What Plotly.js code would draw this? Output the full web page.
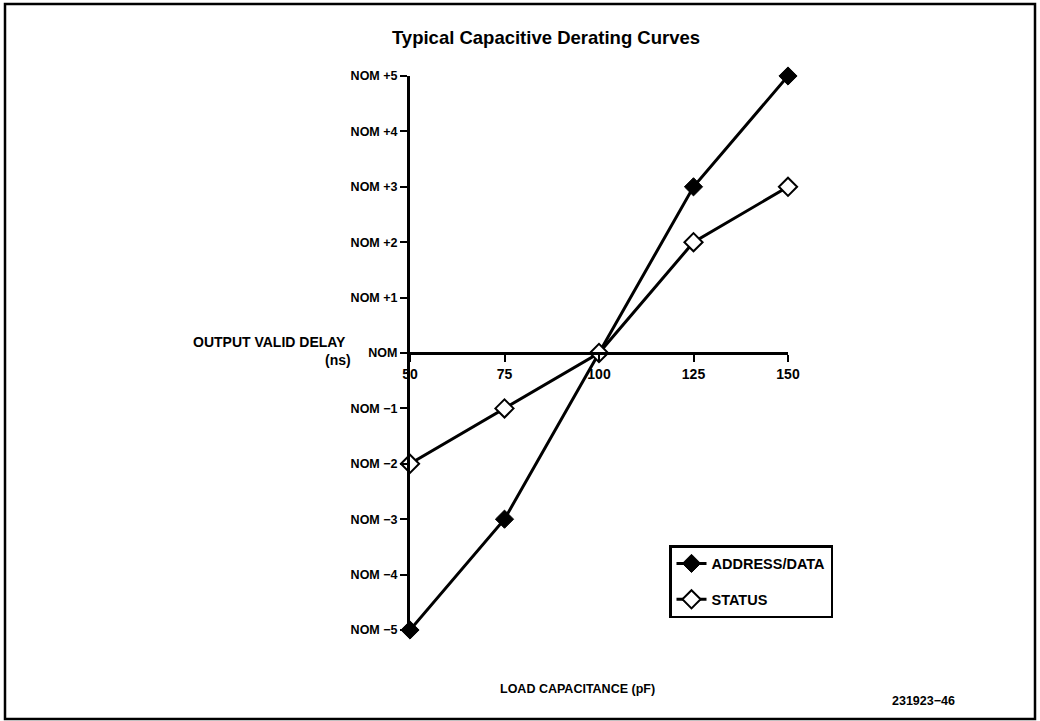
<!DOCTYPE html>
<html>
<head>
<meta charset="utf-8">
<script src="https://cdn.plot.ly/plotly-3.0.1.min.js"></script>
<style>html,body{margin:0;padding:0;background:#fff;}#chart{width:1040px;height:721px;}</style>
</head>
<body>
<div id="chart"></div>
<script>
// ---- data ----
const loadCapacitance = [50, 75, 100, 125, 150];
const addressData = [-5, -3, 0, 3, 5];
const statusVals = [-2, -1, 0, 2, 3];
const xTickVals = [50, 75, 100, 125, 150];
const xTickText = ["50", "75", "100", "125", "150"];
const yTickVals = [-5, -4, -3, -2, -1, 0, 1, 2, 3, 4, 5];
const yTickText = ["NOM \u22125", "NOM \u22124", "NOM \u22123", "NOM \u22122", "NOM \u22121", "NOM",
                   "NOM +1", "NOM +2", "NOM +3", "NOM +4", "NOM +5"];
const seriesNames = ["ADDRESS/DATA", "STATUS"];
const titleText = "Typical Capacitive Derating Curves";
const yLabel1 = "OUTPUT VALID DELAY";
const yLabel2 = "(ns)";
const xLabel = "LOAD CAPACITANCE (pF)";
const figId = "231923\u221246";

// ---- layout geometry ----
const W = 1040, H = 721;
const xDom = [410 / W, 788 / W];
const yDom = [(H - 630) / H, (H - 76) / H];
const yMid = (yDom[0] + yDom[1]) / 2;
const font = "Liberation Sans, Arial, sans-serif";
const tickFont = {family: font, size: 12.5, color: "#000", weight: "bold"};

const traces = [
  {x: loadCapacitance, y: addressData, name: seriesNames[0], legendgroup: "a", mode: "lines+markers",
   line: {color: "#000", width: 3}, marker: {symbol: "diamond", size: 14, color: "#000", line: {color: "#000", width: 1}},
   cliponaxis: false},
  {x: loadCapacitance, y: statusVals, name: seriesNames[1], legendgroup: "b", mode: "lines+markers",
   line: {color: "#000", width: 3}, marker: {symbol: "diamond", size: 14, color: "#fff", line: {color: "#000", width: 2}},
   cliponaxis: false}
];

const layout = {
  width: W, height: H,
  margin: {l: 0, r: 0, t: 0, b: 0},
  paper_bgcolor: "#fff", plot_bgcolor: "rgba(0,0,0,0)",
  showlegend: true,
  title: {text: "<b>" + titleText + "</b>", font: {family: font, size: 18.5, color: "#000"},
          x: 546 / W, xanchor: "center", y: (H - 38) / H, yanchor: "middle"},
  xaxis: {domain: xDom, range: [50, 150], anchor: "free", position: yMid,
          showgrid: false, zeroline: false, showline: true, linecolor: "#000", linewidth: 3,
          ticks: "outside", ticklen: 7, tickwidth: 2, tickcolor: "#000",
          tickmode: "array", tickvals: xTickVals, ticktext: xTickText,
          tickfont: {family: font, size: 14, color: "#000", weight: "bold"}},
  xaxis2: {domain: xDom, range: [50, 150], overlaying: "x", anchor: "free", position: yMid,
           showgrid: false, zeroline: false, showline: false,
           ticks: "inside", ticklen: 7, tickwidth: 2, tickcolor: "#000",
           tickmode: "array", tickvals: xTickVals.slice(1), showticklabels: false},
  yaxis: {domain: yDom, range: [-5, 5], anchor: "x",
          showgrid: false, zeroline: false, showline: true, linecolor: "#000", linewidth: 3,
          ticks: "outside", ticklen: 7, tickwidth: 2, tickcolor: "#000",
          tickmode: "array", tickvals: yTickVals, ticktext: yTickText, tickfont: tickFont},
  yaxis2: {domain: yDom, range: [-5, 5], overlaying: "y", anchor: "free", position: xDom[0], side: "left",
           showgrid: false, zeroline: false, showline: false,
           ticks: "inside", ticklen: 7, tickwidth: 2, tickcolor: "#000",
           tickmode: "array", tickvals: yTickVals.filter(v => v !== 0), showticklabels: false},
  legend: {x: 669 / W, y: (H - 545) / H, xanchor: "left", yanchor: "top",
           bordercolor: "#000", borderwidth: 2.5, bgcolor: "#fff",
           font: {family: font, size: 14.5, color: "#000", weight: "bold"},
           tracegroupgap: 14},
  annotations: [
    {text: "<b>" + yLabel1 + "</b>", xref: "paper", yref: "paper", x: 348 / W, y: (H - 342) / H,
     xanchor: "right", yanchor: "middle", showarrow: false, font: {family: font, size: 14, color: "#000"}},
    {text: "<b>" + yLabel2 + "</b>", xref: "paper", yref: "paper", x: 353 / W, y: (H - 360) / H,
     xanchor: "right", yanchor: "middle", showarrow: false, font: {family: font, size: 14, color: "#000"}},
    {text: "<b>" + xLabel + "</b>", xref: "paper", yref: "paper", x: 577 / W, y: (H - 689) / H,
     xanchor: "center", yanchor: "middle", showarrow: false, font: {family: font, size: 12.5, color: "#000"}},
    {text: "<b>" + figId + "</b>", xref: "paper", yref: "paper", x: 923 / W, y: (H - 701) / H,
     xanchor: "center", yanchor: "middle", showarrow: false, font: {family: font, size: 12.5, color: "#000"}}
  ],
  shapes: [
    {type: "rect", xref: "paper", yref: "paper", x0: 5 / W, x1: 1035 / W, y0: (H - 719) / H, y1: (H - 4) / H,
     line: {color: "#000", width: 2.5}, fillcolor: "rgba(0,0,0,0)", layer: "below"}
  ]
};

Plotly.newPlot("chart", traces, layout, {displayModeBar: false, staticPlot: true});
</script>
</body>
</html>
